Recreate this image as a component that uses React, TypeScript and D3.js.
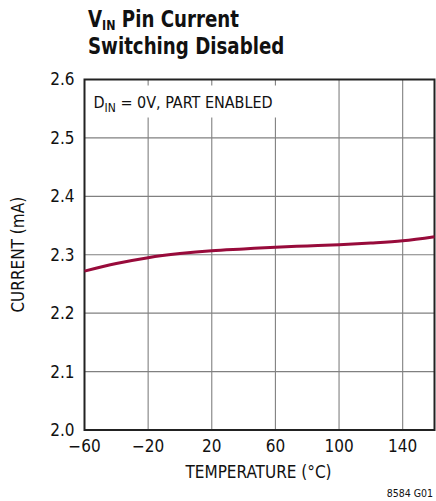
import * as d3 from 'd3';

const temps = [-60, -40, -20, 0, 20, 40, 60, 80, 100, 120, 140, 160];
const current = [2.272, 2.285, 2.295, 2.302, 2.307, 2.31, 2.313, 2.315, 2.317, 2.32, 2.324, 2.331];
const xTicks = [-60, -20, 20, 60, 100, 140];
const yTicks = [2.0, 2.1, 2.2, 2.3, 2.4, 2.5, 2.6];

const FONT = '"Liberation Sans Narrow", "DejaVu Sans Condensed", Arial, sans-serif';

export default function App() {
  const width = 436;
  const height = 501;
  const margin = { top: 79.5, right: 1.5, bottom: 71, left: 84.5 };
  const innerW = width - margin.left - margin.right;
  const innerH = height - margin.top - margin.bottom;

  const x = d3.scaleLinear().domain([-60, 160]).range([0, innerW]);
  const y = d3.scaleLinear().domain([2.0, 2.6]).range([innerH, 0]);

  const pts = temps.map((t, i) => [t, current[i]] as [number, number]);
  const line = d3.line<[number, number]>()
    .x((d) => x(d[0]))
    .y((d) => y(d[1]))
    .curve(d3.curveMonotoneX);

  return (
    <svg
      width={width}
      height={height}
      style={{ position: 'absolute', left: 0, top: 0, background: '#fff' }}
      fontFamily={FONT}
    >
      <g transform="translate(88,0) scale(0.88,1)">
        <text x={0} y={27} fontSize={23} fontWeight="bold" fill="#111">
          V<tspan fontSize={14} dy={3}>IN</tspan>
          <tspan dy={-3}> Pin Current</tspan>
        </text>
        <text x={0} y={54} fontSize={23} fontWeight="bold" fill="#111">
          Switching Disabled
        </text>
      </g>

      <g transform={`translate(${margin.left},${margin.top})`}>
        {xTicks.slice(1).map((t) => (
          <line key={'gx' + t} x1={x(t)} x2={x(t)} y1={0} y2={innerH} stroke="#808080" strokeWidth={1.1} />
        ))}
        {yTicks.slice(1, -1).map((t) => (
          <line key={'gy' + t} x1={0} x2={innerW} y1={y(t)} y2={y(t)} stroke="#808080" strokeWidth={1.1} />
        ))}
        <rect x={0} y={0} width={innerW} height={innerH} fill="none" stroke="#222" strokeWidth={2} />

        <rect x={6} y={6} width={192} height={32} fill="#fff" />
        <text x={9} y={28} fontSize={16} fill="#111">
          D<tspan fontSize={12} dy={4}>IN</tspan>
          <tspan dy={-4}> = 0V, PART ENABLED</tspan>
        </text>

        <path d={line(pts) ?? ''} fill="none" stroke="#980b3b" strokeWidth={3} />

        {yTicks.map((t) => (
          <text key={'ty' + t} x={-10} y={y(t)} dy="0.35em" textAnchor="end" fontSize={17} fill="#111">
            {t.toFixed(1)}
          </text>
        ))}
        {xTicks.map((t) => (
          <text key={'tx' + t} x={x(t)} y={innerH + 22} textAnchor="middle" fontSize={17} fill="#111">
            {t < 0 ? '\u2212' + Math.abs(t) : t}
          </text>
        ))}
        <text x={innerW / 2 - 1} y={innerH + 48} textAnchor="middle" fontSize={17} fill="#111">
          TEMPERATURE (°C)
        </text>
        <text
          transform={`translate(${-margin.left + 24},${innerH / 2}) rotate(-90)`}
          textAnchor="middle"
          fontSize={17}
          fill="#111"
        >
          CURRENT (mA)
        </text>
      </g>
      <text x={433} y={497} textAnchor="end" fontSize={10.5} fill="#111">8584 G01</text>
    </svg>
  );
}
